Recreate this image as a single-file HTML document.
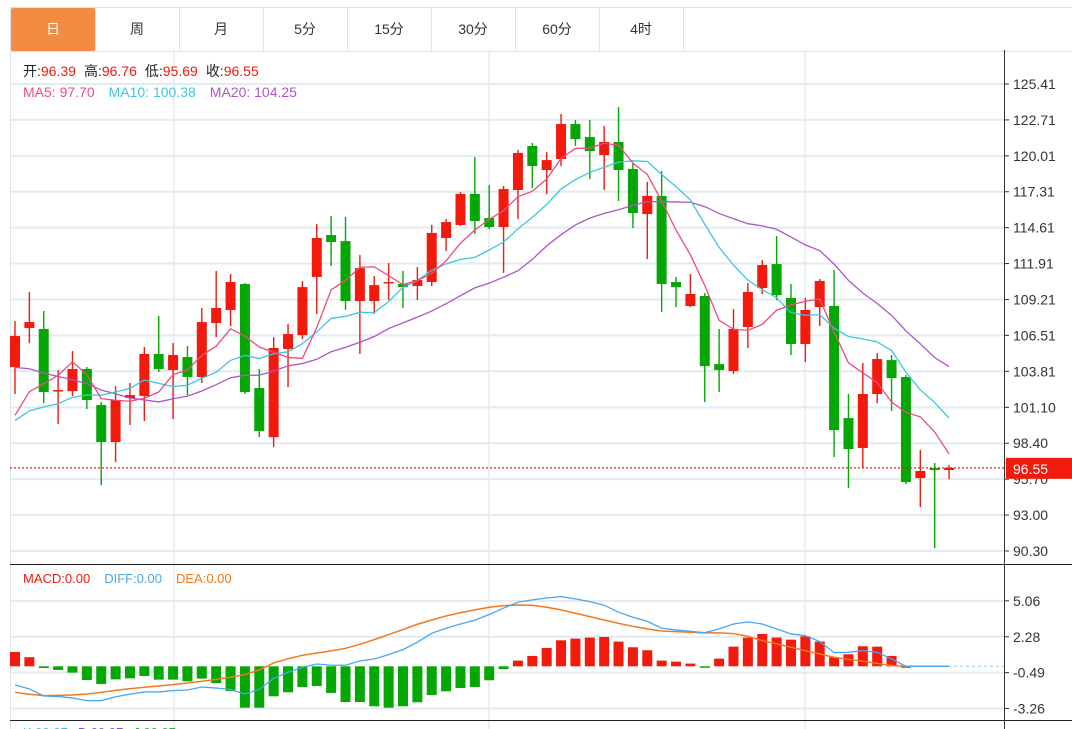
<!DOCTYPE html>
<html><head><meta charset="utf-8"><style>
html,body{margin:0;padding:0;background:#fff;width:1072px;height:729px;overflow:hidden;font-family:"Liberation Sans","Noto Sans CJK SC",sans-serif}
.tabs{position:absolute;left:10px;top:7px;width:1062px;height:43px;border-top:1px solid #dde3ea;border-bottom:1px solid #dde3ea;border-left:1px solid #dde3ea}
.tab{position:absolute;top:0;height:43px;width:84px;border-right:1px solid #dde3ea;text-align:center;line-height:43px;font-size:14px;color:#333}
.tab.on{background:#f28c43;color:#fff;border-radius:2px}
svg{position:absolute;left:0;top:0}
</style></head><body>
<div class="tabs">
<div class="tab on" style="left:0">日</div>
<div class="tab" style="left:84px">周</div>
<div class="tab" style="left:168px">月</div>
<div class="tab" style="left:252px">5分</div>
<div class="tab" style="left:336px">15分</div>
<div class="tab" style="left:420px">30分</div>
<div class="tab" style="left:504px">60分</div>
<div class="tab" style="left:588px">4时</div>
</div>
<svg id="chart" width="1072" height="729" style="top:0">
</svg>
<script>
const opens=[104.13,107.06,106.99,102.32,102.32,103.98,101.27,98.49,101.80,101.95,105.11,103.90,104.88,103.38,107.44,108.42,110.37,102.55,98.86,105.48,106.53,110.90,114.05,113.60,109.09,109.09,110.45,110.37,110.22,110.52,113.83,114.81,117.14,115.33,114.66,117.44,120.75,118.94,119.77,122.40,121.42,120.07,121.05,119.02,115.63,116.99,110.52,108.72,109.47,104.35,103.83,107.14,110.07,111.87,109.32,105.86,108.64,108.72,100.29,98.04,102.10,104.65,103.38,95.78,96.53,96.39];
const highs=[107.59,109.77,108.34,103.90,105.33,104.13,101.50,102.70,102.93,105.63,107.96,105.93,105.71,108.57,111.35,111.12,110.45,103.98,106.38,107.36,110.60,114.88,115.48,115.41,112.55,110.97,111.95,111.35,111.65,114.81,115.26,117.29,119.92,117.81,117.74,120.45,120.97,120.30,123.15,122.70,122.70,122.25,123.68,119.47,118.04,118.87,110.90,111.12,109.69,106.99,108.49,110.45,112.17,113.98,110.37,109.32,110.75,111.42,102.10,104.43,105.18,105.03,103.53,97.89,96.91,96.76];
const lows=[102.10,105.93,101.42,99.84,101.95,100.97,95.25,96.98,99.77,100.07,103.75,100.22,102.02,102.93,106.38,107.21,102.10,98.86,98.11,102.62,106.23,108.11,111.72,108.42,105.11,108.11,109.17,108.57,109.17,110.22,112.85,114.73,114.13,114.51,111.20,115.26,117.59,117.14,119.24,120.75,118.27,117.44,116.61,114.58,112.25,108.26,108.64,108.64,101.50,102.25,103.60,105.56,109.62,109.17,105.03,104.50,107.21,97.36,95.03,96.53,101.42,100.82,95.33,93.60,90.52,95.69];
const closes=[106.46,107.51,102.25,102.40,103.98,101.65,98.49,101.65,102.02,105.11,103.98,105.03,103.38,107.51,108.57,110.52,102.25,99.32,105.56,106.61,110.14,113.83,113.53,109.09,111.57,110.29,110.52,110.14,110.67,114.21,115.03,117.14,115.11,114.66,117.51,120.22,119.24,119.69,122.40,121.27,120.37,121.05,118.94,115.71,116.99,110.37,110.14,109.62,104.20,103.90,106.99,109.77,111.80,109.54,105.86,108.42,110.60,99.39,97.96,102.10,104.73,103.30,95.48,96.31,96.38,96.55];
const priorCloses=[109.5,108.8,107.6,108.9,107.4,108.2,107.1,108.6,107.9,107.0,100.2,99.4,99.9,99.1,100.0,98.6,99.3,99.2,98.9];
const priceTicks=["125.41","122.71","120.01","117.31","114.61","111.91","109.21","106.51","103.81","101.10","98.40","95.70","93.00","90.30"];
const macdHist=[1.11,0.70,-0.13,-0.28,-0.49,-1.06,-1.37,-1.01,-0.93,-0.75,-1.03,-1.03,-1.16,-0.95,-1.29,-1.91,-3.20,-3.20,-2.32,-2.01,-1.60,-1.52,-2.06,-2.76,-2.76,-3.09,-3.20,-3.09,-2.78,-2.22,-1.93,-1.68,-1.60,-1.08,-0.21,0.44,0.80,1.42,2.01,2.14,2.22,2.27,1.91,1.47,1.24,0.44,0.36,0.21,-0.05,0.59,1.52,2.22,2.50,2.22,2.06,2.32,1.91,0.70,0.93,1.55,1.52,0.80,-0.08,0,0,0];
const diffVals=[-1.44,-1.75,-2.29,-2.33,-2.45,-2.65,-2.65,-2.35,-2.16,-1.98,-1.98,-1.88,-1.83,-1.60,-1.68,-1.80,-2.14,-1.78,-0.93,-0.46,-0.08,0.18,0.08,0.08,0.41,0.57,0.90,1.29,1.86,2.55,2.94,3.27,3.56,4.00,4.50,4.95,5.13,5.28,5.39,5.21,5.00,4.72,4.18,3.79,3.48,2.94,2.81,2.71,2.60,2.89,3.27,3.43,3.27,2.89,2.50,2.37,1.91,1.06,1.08,1.21,1.08,0.57,0,0,0,0];
const deaVals=[-2.01,-2.16,-2.27,-2.25,-2.22,-2.14,-2.01,-1.86,-1.73,-1.62,-1.52,-1.42,-1.29,-1.16,-1.01,-0.85,-0.64,-0.28,0.26,0.59,0.85,1.03,1.19,1.39,1.70,2.06,2.45,2.84,3.25,3.58,3.89,4.15,4.36,4.56,4.69,4.74,4.72,4.56,4.36,4.10,3.84,3.58,3.32,3.09,2.89,2.73,2.68,2.63,2.58,2.58,2.53,2.32,1.98,1.73,1.47,1.21,0.95,0.70,0.54,0.39,0.23,0.05,0,0,0,0];
const macdTicks=["5.06","2.28","-0.49","-3.26"];

const svg=document.getElementById('chart');
const NS='http://www.w3.org/2000/svg';
function mk(tag,attrs,parent){const e=document.createElementNS(NS,tag);for(const k in attrs)e.setAttribute(k,attrs[k]);(parent||svg).appendChild(e);return e;}
const xOf=i=>15+i*14.37;
const yP=v=>84+(125.41-v)*13.3;
const yM=v=>666.3-v*12.94;
const RED='#f2190d',GREEN='#05a705';

// grids
for(const t of priceTicks){const g=mk('line',{x1:10,x2:1004,y1:yP(+t),y2:yP(+t),stroke:'#e3ebf2','stroke-width':2});

}
for(const t of macdTicks){const g=mk('line',{x1:10,x2:1004,y1:yM(+t),y2:yM(+t),stroke:'#e3ebf2','stroke-width':2});

}
for(const gx of [174,489,805]){const g=mk('line',{x1:gx,x2:gx,y1:50,y2:729,stroke:'#e3ebf2','stroke-width':1.5});

}
mk('line',{x1:10.5,x2:10.5,y1:50,y2:729,stroke:'#dde3ea','stroke-width':1});
mk('line',{x1:10,x2:1072,y1:564.5,y2:564.5,stroke:'#222','stroke-width':1});
mk('line',{x1:10,x2:1072,y1:720.5,y2:720.5,stroke:'#222','stroke-width':1});
mk('line',{x1:1004.5,x2:1004.5,y1:50,y2:729,stroke:'#333','stroke-width':1});

// candles
for(let i=0;i<closes.length;i++){
  const up=closes[i]>=opens[i];const c=up?RED:GREEN;const x=xOf(i);
  const w=mk('line',{x1:x,x2:x,y1:yP(highs[i]),y2:yP(lows[i]),stroke:c,'stroke-width':1.4});
  
  
  const top=yP(Math.max(opens[i],closes[i])),bot=yP(Math.min(opens[i],closes[i]));
  const b=mk('rect',{x:x-5,y:top,width:10,height:Math.max(bot-top,1.5),fill:c});
  
  
}
// MAs
const all=priorCloses.concat(closes);
function ma(n){const out=[];for(let i=0;i<closes.length;i++){const j=i+priorCloses.length;let s=0;for(let k=j-n+1;k<=j;k++)s+=all[k];out.push(s/n);}return out;}
function poly(vals,fy,color,name,w){const p=mk('polyline',{points:vals.map((v,i)=>xOf(i)+','+fy(v)).join(' '),fill:'none',stroke:color,'stroke-width':w||1.3});

}
poly(ma(20),yP,'#ae55c8','ma20-line');
poly(ma(10),yP,'#3bc7dc','ma10-line');
poly(ma(5),yP,'#ec4c7f','ma5-line');

// last price line
const lp=closes[closes.length-1];
mk('line',{x1:10,x2:1004,y1:yP(lp),y2:yP(lp),stroke:RED,'stroke-width':1.2,'stroke-dasharray':'2,2'});

// MACD
for(let i=0;i<macdHist.length;i++){const v=macdHist[i];if(v===0)continue;const y0=yM(0),y1=yM(v);
const r=mk('rect',{x:xOf(i)-5,y:Math.min(y0,y1),width:10,height:Math.max(Math.abs(y1-y0),1.5),fill:v>0?RED:GREEN});

}
mk('line',{x1:xOf(62),x2:1004,y1:yM(0),y2:yM(0),stroke:'#a9dcef','stroke-width':1.3,'stroke-dasharray':'3,3'});
poly(deaVals,yM,'#f5781b','dea-line',1.5);
poly(diffVals,yM,'#4aa6f2','diff-line',1.3);

// axis labels
function txt(x,y,s,fill,size,name,anchor){const t=mk('text',{x:x,y:y,fill:fill,'font-size':size,'font-family':'"Liberation Sans","Noto Sans CJK SC",sans-serif','text-anchor':anchor||'start'});t.textContent=s;

return t;}
for(const t of priceTicks){mk('line',{x1:1005,x2:1009,y1:yP(+t),y2:yP(+t),stroke:'#333'});txt(1013,yP(+t)+5,t,'#333',14,'price-tick-label');}
for(const t of macdTicks){mk('line',{x1:1005,x2:1009,y1:yM(+t),y2:yM(+t),stroke:'#333'});txt(1013,yM(+t)+5,t,'#333',14,'macd-tick-label');}
const box=mk('rect',{x:1006,y:yP(lp)-10,width:66,height:21,fill:RED});


txt(1013,yP(lp)+6,lp.toFixed(2),'#fff',14,'last-price-value');

// legends
const l1=mk('text',{x:23,y:76,'font-size':14,'font-family':'"Liberation Sans","Noto Sans CJK SC",sans-serif'});


l1.innerHTML='<tspan fill="#222">开:</tspan><tspan fill="#f2190d">96.39</tspan><tspan fill="#222" dx="8">高:</tspan><tspan fill="#f2190d">96.76</tspan><tspan fill="#222" dx="8">低:</tspan><tspan fill="#f2190d">95.69</tspan><tspan fill="#222" dx="8">收:</tspan><tspan fill="#f2190d">96.55</tspan>';
const l2=mk('text',{x:23,y:97,'font-size':14,'font-family':'"Liberation Sans",sans-serif'});


l2.innerHTML='<tspan fill="#ec4c7f">MA5: 97.70</tspan><tspan fill="#3bc7dc" dx="14">MA10: 100.38</tspan><tspan fill="#ae55c8" dx="14">MA20: 104.25</tspan>';
const l3=mk('text',{x:23,y:583,'font-size':13,'font-family':'"Liberation Sans",sans-serif'});


l3.innerHTML='<tspan fill="#f2190d">MACD:0.00</tspan><tspan fill="#4aa6f2" dx="14">DIFF:0.00</tspan><tspan fill="#f5781b" dx="14">DEA:0.00</tspan>';
const l4=mk('text',{x:23,y:737,'font-size':13,'font-family':'"Liberation Sans",sans-serif'});


l4.innerHTML='<tspan fill="#3bc7dc">K:99.97</tspan><tspan fill="#8a4fd0" dx="10">D:99.97</tspan><tspan fill="#2ab04a" dx="10">J:99.97</tspan>';
</script>
</body></html>
